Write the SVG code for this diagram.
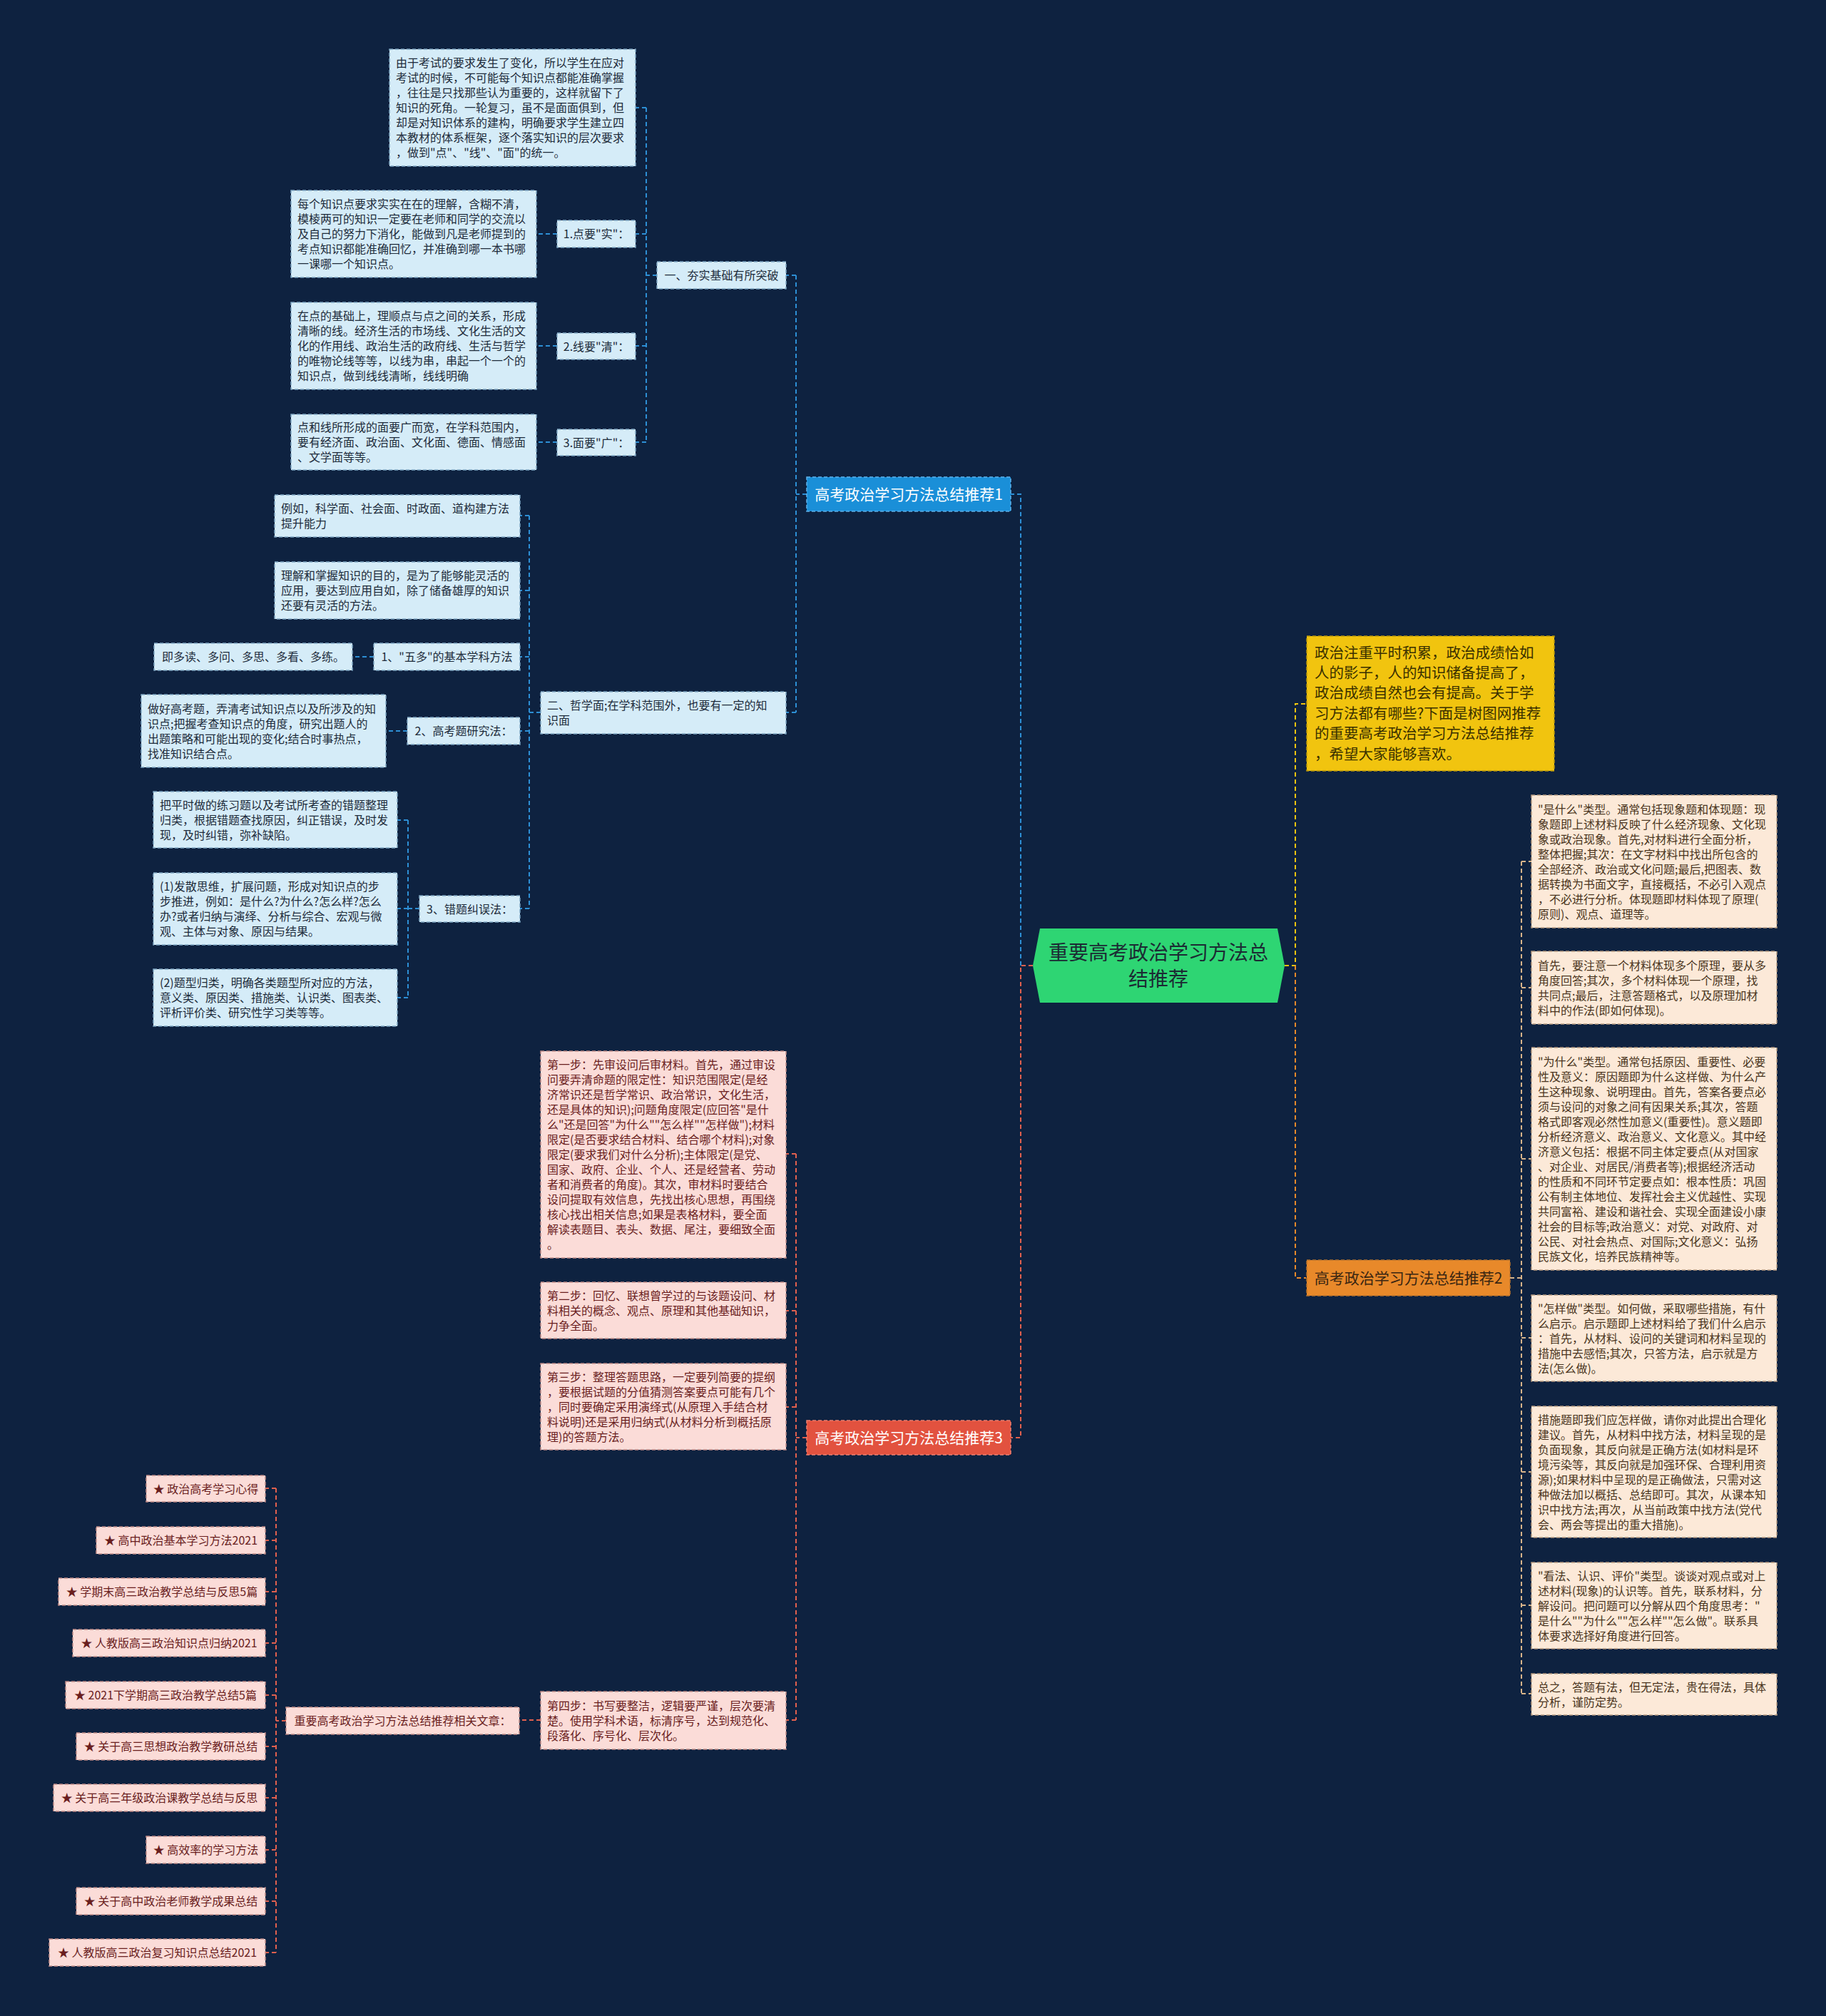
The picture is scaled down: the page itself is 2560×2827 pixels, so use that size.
<svg xmlns="http://www.w3.org/2000/svg" width="2560" height="2827" viewBox="0 0 2560 2827">
<style>
text { font-family: "Noto Sans CJK SC", "Noto Sans", sans-serif; }
.cb { fill: none; stroke: #2d8fd5; stroke-width: 2; stroke-dasharray: 6 4; }
.cr { fill: none; stroke: #e0604e; stroke-width: 2; stroke-dasharray: 6 4; }
.co { fill: none; stroke: #e8892a; stroke-width: 2; stroke-dasharray: 6 4; }
.cy { fill: none; stroke: #f1c40f; stroke-width: 2; stroke-dasharray: 6 4; }
.ct { fill: none; stroke: #d8b48a; stroke-width: 2; stroke-dasharray: 6 4; }
.nb { fill: #d5ecf8; stroke: #7fa6c2; stroke-width: 1.5; stroke-dasharray: 5 3; }
.np { fill: #fce9d8; stroke: #b59b80; stroke-width: 1.5; stroke-dasharray: 5 3; }
.nr { fill: #fbdcd8; stroke: #c08c88; stroke-width: 1.5; stroke-dasharray: 5 3; }
.tb { fill: #1d2b3a; font-size: 16px; }
.tp { fill: #4a3520; font-size: 16px; }
.tr { fill: #6a1e1e; font-size: 16px; }
.tc { text-anchor: middle; }
.br { font-size: 21px; text-anchor: middle; }
</style>
<rect x="0" y="0" width="2560" height="2827" fill="#0e2240"/>

<g id="connectors">
  <path class="cr" d="M1448,1354 H1431 V2016 H1417"/>
  <path class="cb" d="M1431,1354 V693 H1417"/>
  <path class="cy" d="M1801,1354 H1816 V987 H1832"/>
  <path class="co" d="M1816,1354 V1792 H1831"/>
  <!-- branch 1 -->
  <path class="cb" d="M1131,693 H1116"/>
  <path class="cb" d="M1116,386 V999"/>
  <path class="cb" d="M1116,386 H1102 M1116,999 H1102"/>
  <path class="cb" d="M921,386 H906 M906,151 V620 M906,151 H891 M906,328 H891 M906,485 H891 M906,620 H891"/>
  <path class="cb" d="M781,328 H752 M781,485 H752 M781,620 H752"/>
  <path class="cb" d="M758,999 H742 M742,723 V1274 M742,723 H729 M742,828 H729 M742,921 H729 M742,1025 H729 M742,1274 H729"/>
  <path class="cb" d="M524,921 H494 M571,1025 H541"/>
  <path class="cb" d="M588,1274 H572 M572,1150 V1399 M572,1150 H557 M572,1274 H557 M572,1399 H557"/>
  <!-- branch 2 -->
  <path class="ct" d="M2117,1792 H2133 M2133,1208 V2375 M2133,1208 H2147 M2133,1385 H2147 M2133,1625 H2147 M2133,1876 H2147 M2133,2064 H2147 M2133,2251 H2147 M2133,2375 H2147"/>
  <!-- branch 3 -->
  <path class="cr" d="M1131,2016 H1116 M1116,1618 V2412 M1116,1618 H1102 M1116,1838 H1102 M1116,1973 H1102 M1116,2412 H1102"/>
  <path class="cr" d="M758,2412 H728"/>
  <path class="cr" d="M401,2413 H387 M387,2087 V2738 M387,2087 H372 M387,2160 H372 M387,2232 H372 M387,2304 H372 M387,2377 H372 M387,2449 H372 M387,2521 H372 M387,2594 H372 M387,2666 H372 M387,2738 H372"/>
</g>

<g id="root">
  <polygon points="1448,1354 1458,1302 1791,1302 1801,1354 1791,1406 1458,1406" fill="#2ed573"/>
  <text x="1624" y="1346" font-size="28" fill="#1c2a33" text-anchor="middle">重要高考政治学习方法总</text>
  <text x="1624" y="1383" font-size="28" fill="#1c2a33" text-anchor="middle">结推荐</text>
</g>

<g id="branch1">
  <rect x="1131" y="669" width="286" height="48" fill="#1a8fd8" stroke="#5fb3ea" stroke-width="1.5" stroke-dasharray="5 3"/>
  <text class="br" x="1274" y="700.5" fill="#ffffff">高考政治学习方法总结推荐1</text>
</g>
<g id="branch2">
  <rect x="1832" y="1767" width="285" height="50" fill="#e8892a" stroke="#b5732e" stroke-width="1.5" stroke-dasharray="5 3"/>
  <text class="br" x="1974.5" y="1799.5" fill="#3a2612">高考政治学习方法总结推荐2</text>
</g>
<g id="branch3">
  <rect x="1131" y="1992" width="286" height="48" fill="#e2523f" stroke="#f08070" stroke-width="1.5" stroke-dasharray="5 3"/>
  <text class="br" x="1274" y="2023.5" fill="#ffffff">高考政治学习方法总结推荐3</text>
</g>

<g id="intro">
  <rect x="1832" y="892" width="347" height="189" fill="#f1c40f" stroke="#b8960c" stroke-width="1.5" stroke-dasharray="5 3"/>
  <text font-size="20.5" fill="#3a3000">
    <tspan x="1843" y="922.5">政治注重平时积累，政治成绩恰如</tspan>
    <tspan x="1843" y="950.9">人的影子，人的知识储备提高了，</tspan>
    <tspan x="1843" y="979.3">政治成绩自然也会有提高。关于学</tspan>
    <tspan x="1843" y="1007.7">习方法都有哪些?下面是树图网推荐</tspan>
    <tspan x="1843" y="1036.1">的重要高考政治学习方法总结推荐</tspan>
    <tspan x="1843" y="1064.5">，希望大家能够喜欢。</tspan>
  </text>
</g>

<!-- branch 1 descendants -->
<g id="n-yi">
  <rect class="nb" x="921" y="367" width="181" height="38"/>
  <text class="tb tc" x="1011.5" y="392">一、夯实基础有所突破</text>
</g>
<g id="n-top">
  <rect class="nb" x="546" y="69" width="345" height="164"/>
  <text class="tb">
    <tspan x="555" y="94">由于考试的要求发生了变化，所以学生在应对</tspan>
    <tspan x="555" y="115">考试的时候，不可能每个知识点都能准确掌握</tspan>
    <tspan x="555" y="136">，往往是只找那些认为重要的，这样就留下了</tspan>
    <tspan x="555" y="157">知识的死角。一轮复习，虽不是面面俱到，但</tspan>
    <tspan x="555" y="178">却是对知识体系的建构，明确要求学生建立四</tspan>
    <tspan x="555" y="199">本教材的体系框架，逐个落实知识的层次要求</tspan>
    <tspan x="555" y="220">，做到"点"、"线"、"面"的统一。</tspan>
  </text>
</g>
<g id="n-dian">
  <rect class="nb" x="781" y="309" width="110" height="38"/>
  <text class="tb tc" x="836" y="334">1.点要"实"：</text>
</g>
<g id="n-dian-c">
  <rect class="nb" x="408" y="267" width="344" height="122"/>
  <text class="tb">
    <tspan x="417" y="292">每个知识点要求实实在在的理解，含糊不清，</tspan>
    <tspan x="417" y="313">模棱两可的知识一定要在老师和同学的交流以</tspan>
    <tspan x="417" y="334">及自己的努力下消化，能做到凡是老师提到的</tspan>
    <tspan x="417" y="355">考点知识都能准确回忆，并准确到哪一本书哪</tspan>
    <tspan x="417" y="376">一课哪一个知识点。</tspan>
  </text>
</g>
<g id="n-xian">
  <rect class="nb" x="781" y="467" width="110" height="37"/>
  <text class="tb tc" x="836" y="491.5">2.线要"清"：</text>
</g>
<g id="n-xian-c">
  <rect class="nb" x="408" y="424" width="344" height="122"/>
  <text class="tb">
    <tspan x="417" y="449">在点的基础上，理顺点与点之间的关系，形成</tspan>
    <tspan x="417" y="470">清晰的线。经济生活的市场线、文化生活的文</tspan>
    <tspan x="417" y="491">化的作用线、政治生活的政府线、生活与哲学</tspan>
    <tspan x="417" y="512">的唯物论线等等，以线为串，串起一个一个的</tspan>
    <tspan x="417" y="533">知识点，做到线线清晰，线线明确</tspan>
  </text>
</g>
<g id="n-mian">
  <rect class="nb" x="781" y="602" width="110" height="37"/>
  <text class="tb tc" x="836" y="626.5">3.面要"广"：</text>
</g>
<g id="n-mian-c">
  <rect class="nb" x="408" y="581" width="344" height="78"/>
  <text class="tb">
    <tspan x="417" y="605">点和线所形成的面要广而宽，在学科范围内，</tspan>
    <tspan x="417" y="626">要有经济面、政治面、文化面、德面、情感面</tspan>
    <tspan x="417" y="647">、文学面等等。</tspan>
  </text>
</g>
<g id="n-er">
  <rect class="nb" x="758" y="970" width="344" height="59"/>
  <text class="tb">
    <tspan x="767" y="995">二、哲学面;在学科范围外，也要有一定的知</tspan>
    <tspan x="767" y="1016">识面</tspan>
  </text>
</g>
<g id="n-liru">
  <rect class="nb" x="385" y="694" width="344" height="59"/>
  <text class="tb">
    <tspan x="394" y="719">例如，科学面、社会面、时政面、道构建方法</tspan>
    <tspan x="394" y="740">提升能力</tspan>
  </text>
</g>
<g id="n-lijie">
  <rect class="nb" x="385" y="788" width="344" height="80"/>
  <text class="tb">
    <tspan x="394" y="813">理解和掌握知识的目的，是为了能够能灵活的</tspan>
    <tspan x="394" y="834">应用，要达到应用自如，除了储备雄厚的知识</tspan>
    <tspan x="394" y="855">还要有灵活的方法。</tspan>
  </text>
</g>
<g id="n-wuduo">
  <rect class="nb" x="524" y="902" width="205" height="38"/>
  <text class="tb tc" x="626.5" y="927">1、"五多"的基本学科方法</text>
</g>
<g id="n-wuduo-c">
  <rect class="nb" x="216" y="902" width="278" height="38"/>
  <text class="tb tc" x="355" y="927">即多读、多问、多思、多看、多练。</text>
</g>
<g id="n-gaokao">
  <rect class="nb" x="571" y="1006" width="158" height="38"/>
  <text class="tb tc" x="650" y="1031">2、高考题研究法：</text>
</g>
<g id="n-gaokao-c">
  <rect class="nb" x="198" y="974" width="343" height="102"/>
  <text class="tb">
    <tspan x="207" y="999.5">做好高考题，弄清考试知识点以及所涉及的知</tspan>
    <tspan x="207" y="1020.5">识点;把握考查知识点的角度，研究出题人的</tspan>
    <tspan x="207" y="1041.5">出题策略和可能出现的变化;结合时事热点，</tspan>
    <tspan x="207" y="1062.5">找准知识结合点。</tspan>
  </text>
</g>
<g id="n-cuoti">
  <rect class="nb" x="588" y="1256" width="141" height="37"/>
  <text class="tb tc" x="658.5" y="1280.5">3、错题纠误法：</text>
</g>
<g id="n-cuoti-a">
  <rect class="nb" x="215" y="1110" width="342" height="79"/>
  <text class="tb">
    <tspan x="224" y="1134.5">把平时做的练习题以及考试所考查的错题整理</tspan>
    <tspan x="224" y="1155.5">归类，根据错题查找原因，纠正错误，及时发</tspan>
    <tspan x="224" y="1176.5">现，及时纠错，弥补缺陷。</tspan>
  </text>
</g>
<g id="n-cuoti-b">
  <rect class="nb" x="215" y="1224" width="342" height="101"/>
  <text class="tb">
    <tspan x="224" y="1249">(1)发散思维，扩展问题，形成对知识点的步</tspan>
    <tspan x="224" y="1270">步推进，例如：是什么?为什么?怎么样?怎么</tspan>
    <tspan x="224" y="1291">办?或者归纳与演绎、分析与综合、宏观与微</tspan>
    <tspan x="224" y="1312">观、主体与对象、原因与结果。</tspan>
  </text>
</g>
<g id="n-cuoti-c">
  <rect class="nb" x="215" y="1359" width="342" height="80"/>
  <text class="tb">
    <tspan x="224" y="1384">(2)题型归类，明确各类题型所对应的方法，</tspan>
    <tspan x="224" y="1405">意义类、原因类、措施类、认识类、图表类、</tspan>
    <tspan x="224" y="1426">评析评价类、研究性学习类等等。</tspan>
  </text>
</g>

<!-- branch 2 descendants -->
<g id="n-shishenme">
  <rect class="np" x="2147" y="1115" width="344" height="186"/>
  <text class="tp">
    <tspan x="2156" y="1140.5">"是什么"类型。通常包括现象题和体现题：现</tspan>
    <tspan x="2156" y="1161.5">象题即上述材料反映了什么经济现象、文化现</tspan>
    <tspan x="2156" y="1182.5">象或政治现象。首先,对材料进行全面分析，</tspan>
    <tspan x="2156" y="1203.5">整体把握;其次：在文字材料中找出所包含的</tspan>
    <tspan x="2156" y="1224.5">全部经济、政治或文化问题;最后,把图表、数</tspan>
    <tspan x="2156" y="1245.5">据转换为书面文字，直接概括，不必引入观点</tspan>
    <tspan x="2156" y="1266.5">，不必进行分析。体现题即材料体现了原理(</tspan>
    <tspan x="2156" y="1287.5">原则)、观点、道理等。</tspan>
  </text>
</g>
<g id="n-shouxian">
  <rect class="np" x="2147" y="1334" width="344" height="102"/>
  <text class="tp">
    <tspan x="2156" y="1359.5">首先，要注意一个材料体现多个原理，要从多</tspan>
    <tspan x="2156" y="1380.5">角度回答;其次，多个材料体现一个原理，找</tspan>
    <tspan x="2156" y="1401.5">共同点;最后，注意答题格式，以及原理加材</tspan>
    <tspan x="2156" y="1422.5">料中的作法(即如何体现)。</tspan>
  </text>
</g>
<g id="n-weishenme">
  <rect class="np" x="2147" y="1469" width="344" height="312"/>
  <text class="tp">
    <tspan x="2156" y="1494.5">"为什么"类型。通常包括原因、重要性、必要</tspan>
    <tspan x="2156" y="1515.5">性及意义：原因题即为什么这样做、为什么产</tspan>
    <tspan x="2156" y="1536.5">生这种现象、说明理由。首先，答案各要点必</tspan>
    <tspan x="2156" y="1557.5">须与设问的对象之间有因果关系;其次，答题</tspan>
    <tspan x="2156" y="1578.5">格式即客观必然性加意义(重要性)。意义题即</tspan>
    <tspan x="2156" y="1599.5">分析经济意义、政治意义、文化意义。其中经</tspan>
    <tspan x="2156" y="1620.5">济意义包括：根据不同主体定要点(从对国家</tspan>
    <tspan x="2156" y="1641.5">、对企业、对居民/消费者等);根据经济活动</tspan>
    <tspan x="2156" y="1662.5">的性质和不同环节定要点如：根本性质：巩固</tspan>
    <tspan x="2156" y="1683.5">公有制主体地位、发挥社会主义优越性、实现</tspan>
    <tspan x="2156" y="1704.5">共同富裕、建设和谐社会、实现全面建设小康</tspan>
    <tspan x="2156" y="1725.5">社会的目标等;政治意义：对党、对政府、对</tspan>
    <tspan x="2156" y="1746.5">公民、对社会热点、对国际;文化意义：弘扬</tspan>
    <tspan x="2156" y="1767.5">民族文化，培养民族精神等。</tspan>
  </text>
</g>
<g id="n-zenyangzuo">
  <rect class="np" x="2147" y="1816" width="344" height="121"/>
  <text class="tp">
    <tspan x="2156" y="1840.5">"怎样做"类型。如何做，采取哪些措施，有什</tspan>
    <tspan x="2156" y="1861.5">么启示。启示题即上述材料给了我们什么启示</tspan>
    <tspan x="2156" y="1882.5">：首先，从材料、设问的关键词和材料呈现的</tspan>
    <tspan x="2156" y="1903.5">措施中去感悟;其次，只答方法，启示就是方</tspan>
    <tspan x="2156" y="1924.5">法(怎么做)。</tspan>
  </text>
</g>
<g id="n-cuoshi">
  <rect class="np" x="2147" y="1972" width="344" height="184"/>
  <text class="tp">
    <tspan x="2156" y="1996.5">措施题即我们应怎样做，请你对此提出合理化</tspan>
    <tspan x="2156" y="2017.5">建议。首先，从材料中找方法，材料呈现的是</tspan>
    <tspan x="2156" y="2038.5">负面现象，其反向就是正确方法(如材料是环</tspan>
    <tspan x="2156" y="2059.5">境污染等，其反向就是加强环保、合理利用资</tspan>
    <tspan x="2156" y="2080.5">源);如果材料中呈现的是正确做法，只需对这</tspan>
    <tspan x="2156" y="2101.5">种做法加以概括、总结即可。其次，从课本知</tspan>
    <tspan x="2156" y="2122.5">识中找方法;再次，从当前政策中找方法(党代</tspan>
    <tspan x="2156" y="2143.5">会、两会等提出的重大措施)。</tspan>
  </text>
</g>
<g id="n-kanfa">
  <rect class="np" x="2147" y="2191" width="344" height="121"/>
  <text class="tp">
    <tspan x="2156" y="2215.5">"看法、认识、评价"类型。谈谈对观点或对上</tspan>
    <tspan x="2156" y="2236.5">述材料(现象)的认识等。首先，联系材料，分</tspan>
    <tspan x="2156" y="2257.5">解设问。把问题可以分解从四个角度思考："</tspan>
    <tspan x="2156" y="2278.5">是什么""为什么""怎么样""怎么做"。联系具</tspan>
    <tspan x="2156" y="2299.5">体要求选择好角度进行回答。</tspan>
  </text>
</g>
<g id="n-zongzhi">
  <rect class="np" x="2147" y="2347" width="344" height="58"/>
  <text class="tp">
    <tspan x="2156" y="2371.5">总之，答题有法，但无定法，贵在得法，具体</tspan>
    <tspan x="2156" y="2392.5">分析，谨防定势。</tspan>
  </text>
</g>

<!-- branch 3 descendants -->
<g id="n-step1">
  <rect class="nr" x="758" y="1474" width="344" height="290"/>
  <text class="tr">
    <tspan x="767" y="1499">第一步：先审设问后审材料。首先，通过审设</tspan>
    <tspan x="767" y="1520">问要弄清命题的限定性：知识范围限定(是经</tspan>
    <tspan x="767" y="1541">济常识还是哲学常识、政治常识，文化生活，</tspan>
    <tspan x="767" y="1562">还是具体的知识);问题角度限定(应回答"是什</tspan>
    <tspan x="767" y="1583">么"还是回答"为什么""怎么样""怎样做");材料</tspan>
    <tspan x="767" y="1604">限定(是否要求结合材料、结合哪个材料);对象</tspan>
    <tspan x="767" y="1625">限定(要求我们对什么分析);主体限定(是党、</tspan>
    <tspan x="767" y="1646">国家、政府、企业、个人、还是经营者、劳动</tspan>
    <tspan x="767" y="1667">者和消费者的角度)。其次，审材料时要结合</tspan>
    <tspan x="767" y="1688">设问提取有效信息，先找出核心思想，再围绕</tspan>
    <tspan x="767" y="1709">核心找出相关信息;如果是表格材料，要全面</tspan>
    <tspan x="767" y="1730">解读表题目、表头、数据、尾注，要细致全面</tspan>
    <tspan x="767" y="1751">。</tspan>
  </text>
</g>
<g id="n-step2">
  <rect class="nr" x="758" y="1798" width="344" height="79"/>
  <text class="tr">
    <tspan x="767" y="1822.5">第二步：回忆、联想曾学过的与该题设问、材</tspan>
    <tspan x="767" y="1843.5">料相关的概念、观点、原理和其他基础知识，</tspan>
    <tspan x="767" y="1864.5">力争全面。</tspan>
  </text>
</g>
<g id="n-step3">
  <rect class="nr" x="758" y="1912" width="344" height="121"/>
  <text class="tr">
    <tspan x="767" y="1936.5">第三步：整理答题思路，一定要列简要的提纲</tspan>
    <tspan x="767" y="1957.5">，要根据试题的分值猜测答案要点可能有几个</tspan>
    <tspan x="767" y="1978.5">，同时要确定采用演绎式(从原理入手结合材</tspan>
    <tspan x="767" y="1999.5">料说明)还是采用归纳式(从材料分析到概括原</tspan>
    <tspan x="767" y="2020.5">理)的答题方法。</tspan>
  </text>
</g>
<g id="n-step4">
  <rect class="nr" x="758" y="2372" width="344" height="81"/>
  <text class="tr">
    <tspan x="767" y="2397.5">第四步：书写要整洁，逻辑要严谨，层次要清</tspan>
    <tspan x="767" y="2418.5">楚。使用学科术语，标清序号，达到规范化、</tspan>
    <tspan x="767" y="2439.5">段落化、序号化、层次化。</tspan>
  </text>
</g>
<g id="n-related">
  <rect class="nr" x="401" y="2394" width="327" height="38"/>
  <text class="tr tc" x="564.5" y="2419">重要高考政治学习方法总结推荐相关文章：</text>
</g>
<g id="n-a1"><rect class="nr" x="205" y="2069" width="167" height="37"/><text class="tr tc" x="288.5" y="2093.5">★ 政治高考学习心得</text></g>
<g id="n-a2"><rect class="nr" x="135" y="2141" width="237" height="38"/><text class="tr tc" x="253.5" y="2166">★ 高中政治基本学习方法2021</text></g>
<g id="n-a3"><rect class="nr" x="82" y="2213" width="290" height="38"/><text class="tr tc" x="227" y="2238">★ 学期末高三政治教学总结与反思5篇</text></g>
<g id="n-a4"><rect class="nr" x="102" y="2285" width="270" height="38"/><text class="tr tc" x="237" y="2310">★ 人教版高三政治知识点归纳2021</text></g>
<g id="n-a5"><rect class="nr" x="92" y="2358" width="280" height="38"/><text class="tr tc" x="232" y="2383">★ 2021下学期高三政治教学总结5篇</text></g>
<g id="n-a6"><rect class="nr" x="107" y="2430" width="265" height="38"/><text class="tr tc" x="239.5" y="2455">★ 关于高三思想政治教学教研总结</text></g>
<g id="n-a7"><rect class="nr" x="75" y="2502" width="297" height="38"/><text class="tr tc" x="223.5" y="2527">★ 关于高三年级政治课教学总结与反思</text></g>
<g id="n-a8"><rect class="nr" x="205" y="2575" width="167" height="38"/><text class="tr tc" x="288.5" y="2600">★ 高效率的学习方法</text></g>
<g id="n-a9"><rect class="nr" x="107" y="2647" width="265" height="38"/><text class="tr tc" x="239.5" y="2672">★ 关于高中政治老师教学成果总结</text></g>
<g id="n-a10"><rect class="nr" x="69" y="2719" width="303" height="38"/><text class="tr tc" x="220.5" y="2744">★ 人教版高三政治复习知识点总结2021</text></g>
</svg>
